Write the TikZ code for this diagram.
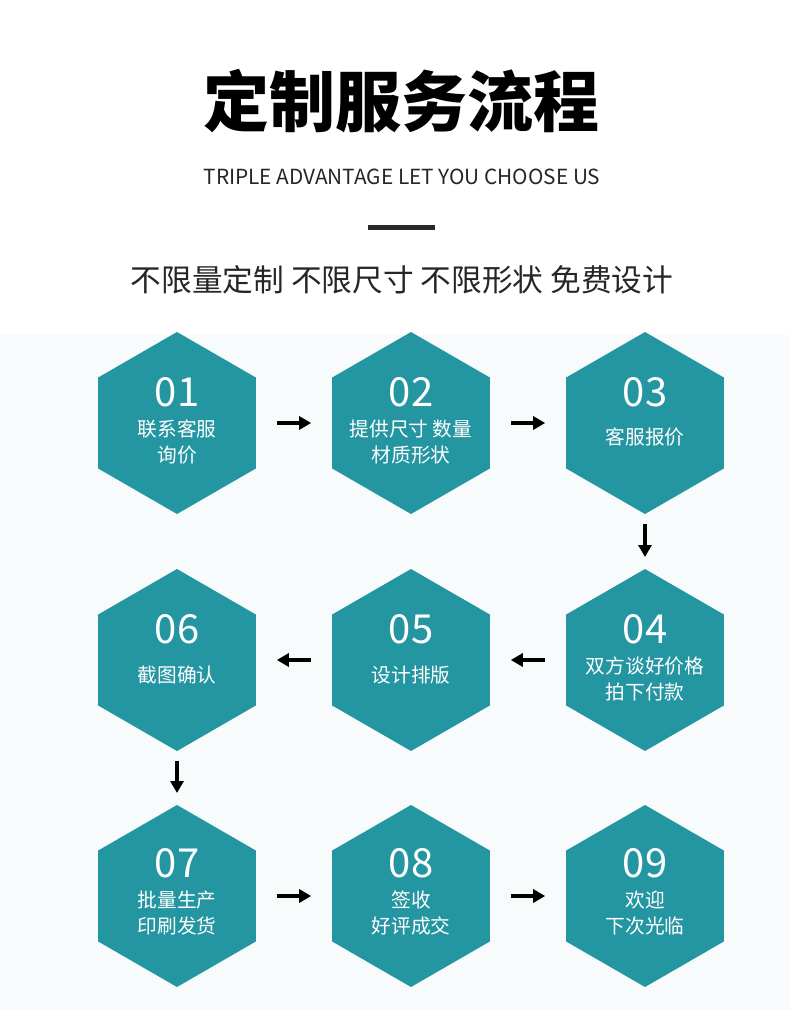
\documentclass[tikz,border=0pt]{standalone}
\usepackage{fontspec}
\usetikzlibrary{shapes.geometric,arrows.meta}
\newfontfamily\cjk{Noto Sans CJK SC}
\definecolor{hexteal}{RGB}{36,150,162}
\definecolor{bgblue}{RGB}{247,251,252}
\definecolor{barcol}{RGB}{40,40,40}
\begin{document}
\begin{tikzpicture}[x=1pt,y=-1pt,
  hex/.style={regular polygon, regular polygon sides=6, shape border rotate=30, minimum size=182pt, inner sep=0pt, outer sep=0pt, fill=hexteal, draw=none},
  num/.style={text=white, inner sep=0pt, font=\cjk\fontsize{40}{40}\selectfont},
  lbl/.style={text=white, align=center, inner sep=0pt, font=\cjk\fontsize{19.7}{26}\selectfont},
  arr/.style={line width=4.5pt, -{Triangle[length=12pt,width=13pt]}, shorten <=21pt, shorten >=21pt},
  darr/.style={line width=4.5pt, -{Triangle[length=12pt,width=13pt]}, shorten <=10pt, shorten >=12pt}]
\fill[white] (0,0) rectangle (790,1010);
\fill[bgblue] (0,335) rectangle (790,1010);
\useasboundingbox (0,0) rectangle (790,1010);
% headings
\node[font=\cjk\bfseries\fontsize{66}{66}\selectfont, inner sep=0pt] (title) at (401,101) {定制服务流程};
\node[font=\cjk\fontsize{20.8}{20.8}\selectfont, inner sep=0pt, text=black!85] (sub) at (402,177) {TRIPLE ADVANTAGE LET YOU CHOOSE US};
\fill[barcol] (368,224.5) rectangle (435,229.5);
\node[font=\cjk\fontsize{30.7}{30.7}\selectfont, inner sep=0pt, text=black!85] (slogan) at (402,280) {不限量定制 不限尺寸 不限形状 免费设计};
% hexagons
\node[hex] (h1) at (177,423) {};
\node[hex] (h2) at (411,423) {};
\node[hex] (h3) at (645,423) {};
\node[hex] (h4) at (645,660) {};
\node[hex] (h5) at (411,660) {};
\node[hex] (h6) at (177,660) {};
\node[hex] (h7) at (177,896) {};
\node[hex] (h8) at (411,896) {};
\node[hex] (h9) at (645,896) {};
% labels
\node[num] (n1) at (177,392) {01};
\node[lbl] (t1) at (177,442) {联系客服\\询价};
\node[num] (n2) at (411,392) {02};
\node[lbl] (t2) at (411,442) {提供尺寸 数量\\材质形状};
\node[num] (n3) at (645,392) {03};
\node[lbl] (t3) at (645,437) {客服报价};
\node[num] (n4) at (645,629) {04};
\node[lbl] (t4) at (645,679) {双方谈好价格\\拍下付款};
\node[num] (n5) at (411,629) {05};
\node[lbl] (t5) at (411,675) {设计排版};
\node[num] (n6) at (177,629) {06};
\node[lbl] (t6) at (177,675) {截图确认};
\node[num] (n7) at (177,863) {07};
\node[lbl] (t7) at (177,913) {批量生产\\印刷发货};
\node[num] (n8) at (411,863) {08};
\node[lbl] (t8) at (411,913) {签收\\好评成交};
\node[num] (n9) at (645,863) {09};
\node[lbl] (t9) at (645,913) {欢迎\\下次光临};
% arrows
\draw[arr] (h1.east) -- (h2.west);
\draw[arr] (h2.east) -- (h3.west);
\draw[darr] (h3.south) -- (h4.north);
\draw[arr] (h4.west) -- (h5.east);
\draw[arr] (h5.west) -- (h6.east);
\draw[darr] (h6.south) -- (h7.north);
\draw[arr] (h7.east) -- (h8.west);
\draw[arr] (h8.east) -- (h9.west);
\end{tikzpicture}
\end{document}
